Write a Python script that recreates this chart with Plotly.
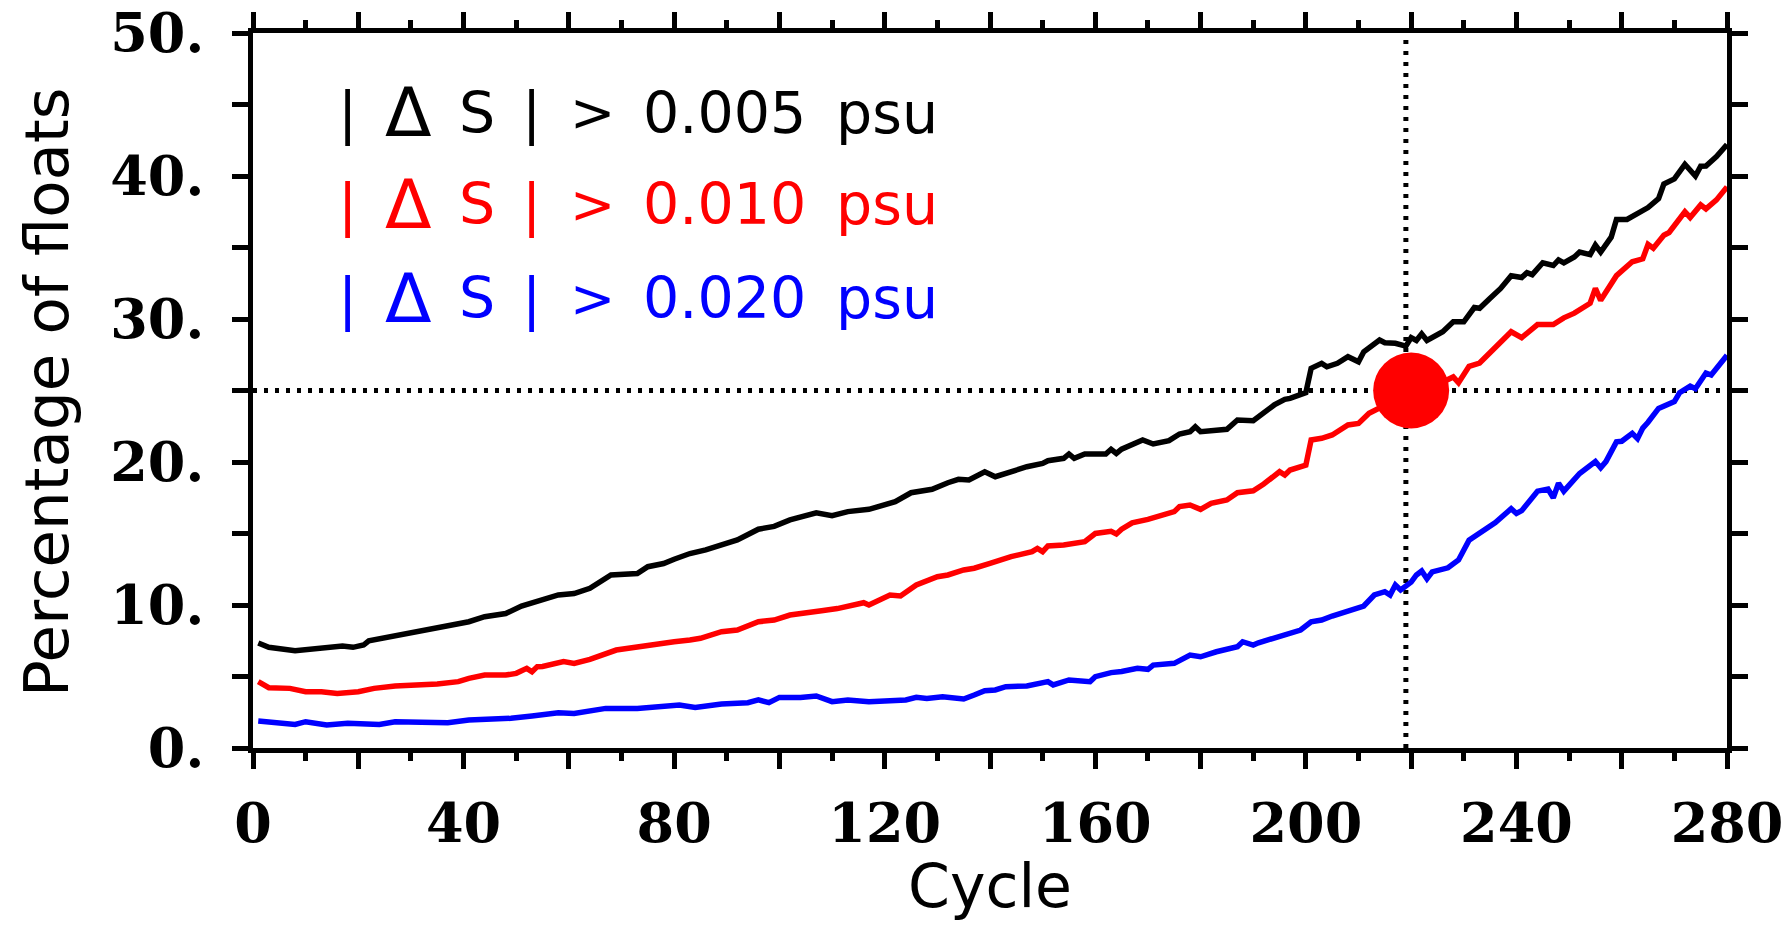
import plotly.graph_objects as go

# ---------------- data ----------------
cyc_005 = [1, 3, 8, 13, 17, 19, 21, 22, 26, 30, 34, 37, 41, 44, 48, 51, 55, 58, 61, 64,
           68, 73, 75, 78, 80, 83, 86, 91, 92, 96, 99, 102, 105, 107, 110, 113, 117, 122, 125, 129,
           132, 134, 136, 139, 141, 144, 147, 150, 151, 154, 155, 156, 158, 162, 163, 164, 165, 169, 171, 174,
           176, 178, 179, 180, 185, 187, 190, 194, 196, 197, 200, 201, 203, 204, 206, 208, 210, 211, 214, 215,
           217, 219, 220, 221, 222, 223, 226, 228, 230, 232, 233, 235, 237, 239, 241, 242, 243, 245, 247, 248,
           249, 251, 252, 254, 255, 256, 258, 259, 261, 265, 267, 268, 270, 272, 274, 275, 276, 278, 280]
val_005 = [7.34, 7.04, 6.80, 6.97, 7.13, 7.04, 7.20, 7.50, 7.78, 8.00, 8.37, 8.53, 8.83, 9.18, 9.40, 9.93, 10.40, 10.70, 10.80, 11.17,
           12.10, 12.20, 12.68, 12.90, 13.20, 13.60, 13.85, 14.43, 14.55, 15.30, 15.50, 15.95, 16.20, 16.45, 16.24, 16.53, 16.69, 17.22, 17.85, 18.09,
           18.55, 18.79, 18.74, 19.32, 18.97, 19.32, 19.67, 19.90, 20.09, 20.26, 20.56, 20.26, 20.56, 20.56, 20.89, 20.60, 20.90, 21.54, 21.26, 21.49,
           21.96, 22.12, 22.47, 22.12, 22.29, 22.94, 22.89, 23.99, 24.38, 24.45, 24.85, 26.55, 26.90, 26.66, 26.90, 27.36, 27.01, 27.71, 28.53, 28.34,
           28.30, 28.10, 28.70, 28.50, 28.96, 28.50, 29.11, 29.80, 29.80, 30.80, 30.75, 31.45, 32.14, 33.03, 32.90, 33.24, 33.10, 33.93, 33.74, 34.13,
           33.93, 34.34, 34.68, 34.50, 35.17, 34.68, 35.72, 36.96, 36.96, 37.79, 38.42, 39.44, 39.80, 40.82, 40.00, 40.68, 40.70, 41.36, 42.20]

cyc_010 = [1, 3, 7, 10, 13, 16, 20, 23, 27, 31, 35, 39, 41, 44, 48, 50, 52, 53, 54, 55,
           59, 61, 64, 69, 73, 80, 83, 85, 89, 92, 96, 99, 102, 105, 108, 111, 113, 116, 117, 121,
           123, 126, 130, 132, 135, 137, 140, 144, 148, 149, 150, 151, 154, 158, 160, 163, 164, 165, 167, 170,
           175, 176, 178, 180, 182, 185, 187, 190, 192, 195, 196, 197, 200, 201, 203, 205, 208, 210, 212, 215,
           217, 220, 223, 226, 228, 229, 231, 233, 239, 241, 244, 247, 249, 251, 254, 255, 256, 257, 259, 262,
           264, 265, 266, 268, 269, 272, 273, 275, 276, 278, 280]
val_010 = [4.64, 4.22, 4.17, 3.94, 3.94, 3.82, 3.94, 4.17, 4.34, 4.38, 4.48, 4.64, 4.87, 5.10, 5.10, 5.22, 5.57, 5.33, 5.69, 5.70,
           6.04, 5.92, 6.20, 6.85, 7.08, 7.43, 7.55, 7.67, 8.13, 8.25, 8.83, 8.95, 9.30, 9.41, 9.60, 9.75, 9.88, 10.16, 10.00, 10.70,
           10.63, 11.40, 11.98, 12.10, 12.45, 12.57, 12.91, 13.38, 13.73, 13.96, 13.73, 14.13, 14.20, 14.43, 15.00, 15.15, 14.97, 15.30, 15.75, 15.99,
           16.53, 16.88, 16.99, 16.69, 17.11, 17.34, 17.85, 17.99, 18.46, 19.32, 19.09, 19.44, 19.79, 21.54, 21.66, 21.89, 22.59, 22.70, 23.40, 23.99,
           24.40, 24.90, 25.40, 25.59, 25.95, 25.54, 26.69, 26.92, 29.11, 28.70, 29.61, 29.61, 30.08, 30.41, 31.10, 32.14, 31.31, 31.87, 33.03, 34.00,
           34.21, 35.22, 34.95, 35.86, 36.05, 37.50, 37.10, 37.98, 37.70, 38.33, 39.24]

cyc_020 = [1, 5, 8, 10, 14, 18, 24, 27, 32, 37, 41, 45, 49, 53, 55, 58, 61, 67, 73, 79,
           81, 84, 89, 94, 96, 98, 100, 104, 107, 110, 113, 117, 122, 124, 126, 128, 131, 135, 137, 139,
           141, 143, 147, 151, 152, 155, 159, 160, 163, 165, 168, 170, 171, 175, 178, 180, 183, 187, 188, 190,
           191, 194, 196, 199, 201, 203, 205, 209, 211, 213, 215, 216, 217, 218, 220, 221, 222, 223, 224, 227,
           229, 231, 236, 239, 240, 241, 244, 246, 247, 248, 249, 252, 255, 256, 257, 259, 260, 262, 263, 264,
           265, 267, 269, 270, 271, 273, 274, 276, 277, 280]
val_020 = [1.89, 1.77, 1.65, 1.84, 1.61, 1.73, 1.65, 1.84, 1.84, 1.77, 1.96, 1.99, 2.08, 2.24, 2.33, 2.47, 2.42, 2.77, 2.77, 3.00,
           3.00, 2.84, 3.08, 3.17, 3.36, 3.17, 3.54, 3.54, 3.64, 3.24, 3.36, 3.24, 3.28, 3.36, 3.54, 3.47, 3.59, 3.43, 3.71, 4.01,
           4.06, 4.29, 4.34, 4.64, 4.41, 4.76, 4.64, 4.99, 5.27, 5.35, 5.57, 5.50, 5.80, 5.92, 6.50, 6.38, 6.73, 7.08, 7.43, 7.20,
           7.36, 7.71, 8.00, 8.25, 8.83, 8.95, 9.23, 9.65, 9.93, 10.70, 10.93, 10.70, 11.40, 11.05, 11.60, 12.10, 12.38, 11.83, 12.32, 12.60,
           13.15, 14.53, 15.76, 16.73, 16.40, 16.60, 17.96, 18.10, 17.50, 18.52, 17.96, 19.20, 20.03, 19.60, 20.03, 21.41, 21.45, 22.00, 21.63, 22.37,
           22.78, 23.75, 24.10, 24.22, 24.85, 25.31, 25.12, 26.22, 26.08, 27.46]

thresholds = ["0.005", "0.010", "0.020"]
series_colors = ["#000000", "#ff0000", "#0000ff"]
series_names = ["| \u0394 S | > %s psu" % t for t in thresholds]

x_tickvals = [0, 20, 40, 60, 80, 100, 120, 140, 160, 180, 200, 220, 240, 260, 280]
x_ticktext = ["0", "", "40", "", "80", "", "120", "", "160", "", "200", "", "240", "", "280"]
y_tickvals = [0, 10, 20, 30, 40, 50]
y_ticktext = ["0.", "10.", "20.", "30.", "40.", "50."]

ref_cycle = 219
ref_percent = 25
mark_cycle = 220
mark_percent = 25

# ---------------- figure ----------------
W, H = 1786, 925
L, R, T, B = 253, 59, 33, 177
PW, PH = W - L - R, H - T - B


def px(xp):
    return (xp - L) / PW


def py(yp):
    return (H - B - yp) / PH


fig = go.Figure()
for cx, vy, name, col in zip([cyc_005, cyc_010, cyc_020], [val_005, val_010, val_020],
                             series_names, series_colors):
    fig.add_trace(go.Scatter(x=cx, y=vy, mode="lines", name=name,
                             line=dict(color=col, width=5.5), showlegend=False))

fig.add_trace(go.Scatter(x=[mark_cycle], y=[mark_percent], mode="markers",
                         marker=dict(color="#ff0000", size=76, line=dict(width=0)),
                         showlegend=False))

dot = dict(color="black", width=5, dash="4px,7px")
fig.add_shape(type="line", xref="x", yref="paper", x0=ref_cycle, x1=ref_cycle, y0=0, y1=1,
              line=dot, layer="below")
fig.add_shape(type="line", xref="paper", yref="y", x0=0, x1=1, y0=ref_percent, y1=ref_percent,
              line=dot, layer="below")

tickfont = dict(family="DejaVu Serif", size=54, color="black", weight="bold")

fig.update_xaxes(range=[0, 280], tickmode="array", tickvals=x_tickvals, ticktext=x_ticktext,
                 ticks="outside", ticklen=16, tickwidth=4.5, tickcolor="black",
                 minor=dict(dtick=10, ticks="outside", ticklen=8, tickwidth=4.5, tickcolor="black",
                            showgrid=False),
                 showline=True, linewidth=5, linecolor="black", mirror="allticks",
                 showgrid=False, zeroline=False, tickfont=tickfont, ticklabelstandoff=8,
                 automargin=False)
fig.update_yaxes(range=[0, 50], tickmode="array", tickvals=y_tickvals, ticktext=y_ticktext,
                 ticks="outside", ticklen=16, tickwidth=4.5, tickcolor="black",
                 minor=dict(dtick=5, ticks="outside", ticklen=16, tickwidth=4.5, tickcolor="black",
                            showgrid=False),
                 showline=True, linewidth=5, linecolor="black", mirror="allticks",
                 showgrid=False, zeroline=False, tickfont=tickfont, ticklabelstandoff=17,
                 automargin=False)

sans = "DejaVu Sans"
annotations = [
    dict(text="Cycle", xref="paper", yref="paper", x=0.5, y=py(886),
         xanchor="center", yanchor="middle", showarrow=False,
         font=dict(family=sans, size=60, color="black")),
    dict(text="Percentage of floats", xref="paper", yref="paper", x=px(46),
         y=py(392), xanchor="center", yanchor="middle", textangle=-90,
         showarrow=False, font=dict(family=sans, size=61, color="black")),
]

# legend text built from its pieces, placed as in the reference
token_x = [347, 408, 477, 531, 592, 724, 887]
token_size = [57, 68, 57, 57, 54, 57, 57]
for thr, col, ypix in zip(thresholds, series_colors, [113, 204, 298]):
    tokens = ["|", "\u0394", "S", "|", ">", thr, "psu"]
    for tok, xp, fs in zip(tokens, token_x, token_size):
        annotations.append(dict(text=tok, xref="paper", yref="paper", x=px(xp), y=py(ypix),
                                xanchor="center", yanchor="middle", showarrow=False,
                                font=dict(family=sans, size=fs, color=col)))

fig.update_layout(width=W, height=H, margin=dict(l=L, r=R, t=T, b=B, autoexpand=False),
                  plot_bgcolor="white", paper_bgcolor="white", annotations=annotations,
                  showlegend=False)

fig.write_html("out.html", config={"displayModeBar": False},
               post_script="document.body.style.margin='0';document.body.style.overflow='hidden';")
